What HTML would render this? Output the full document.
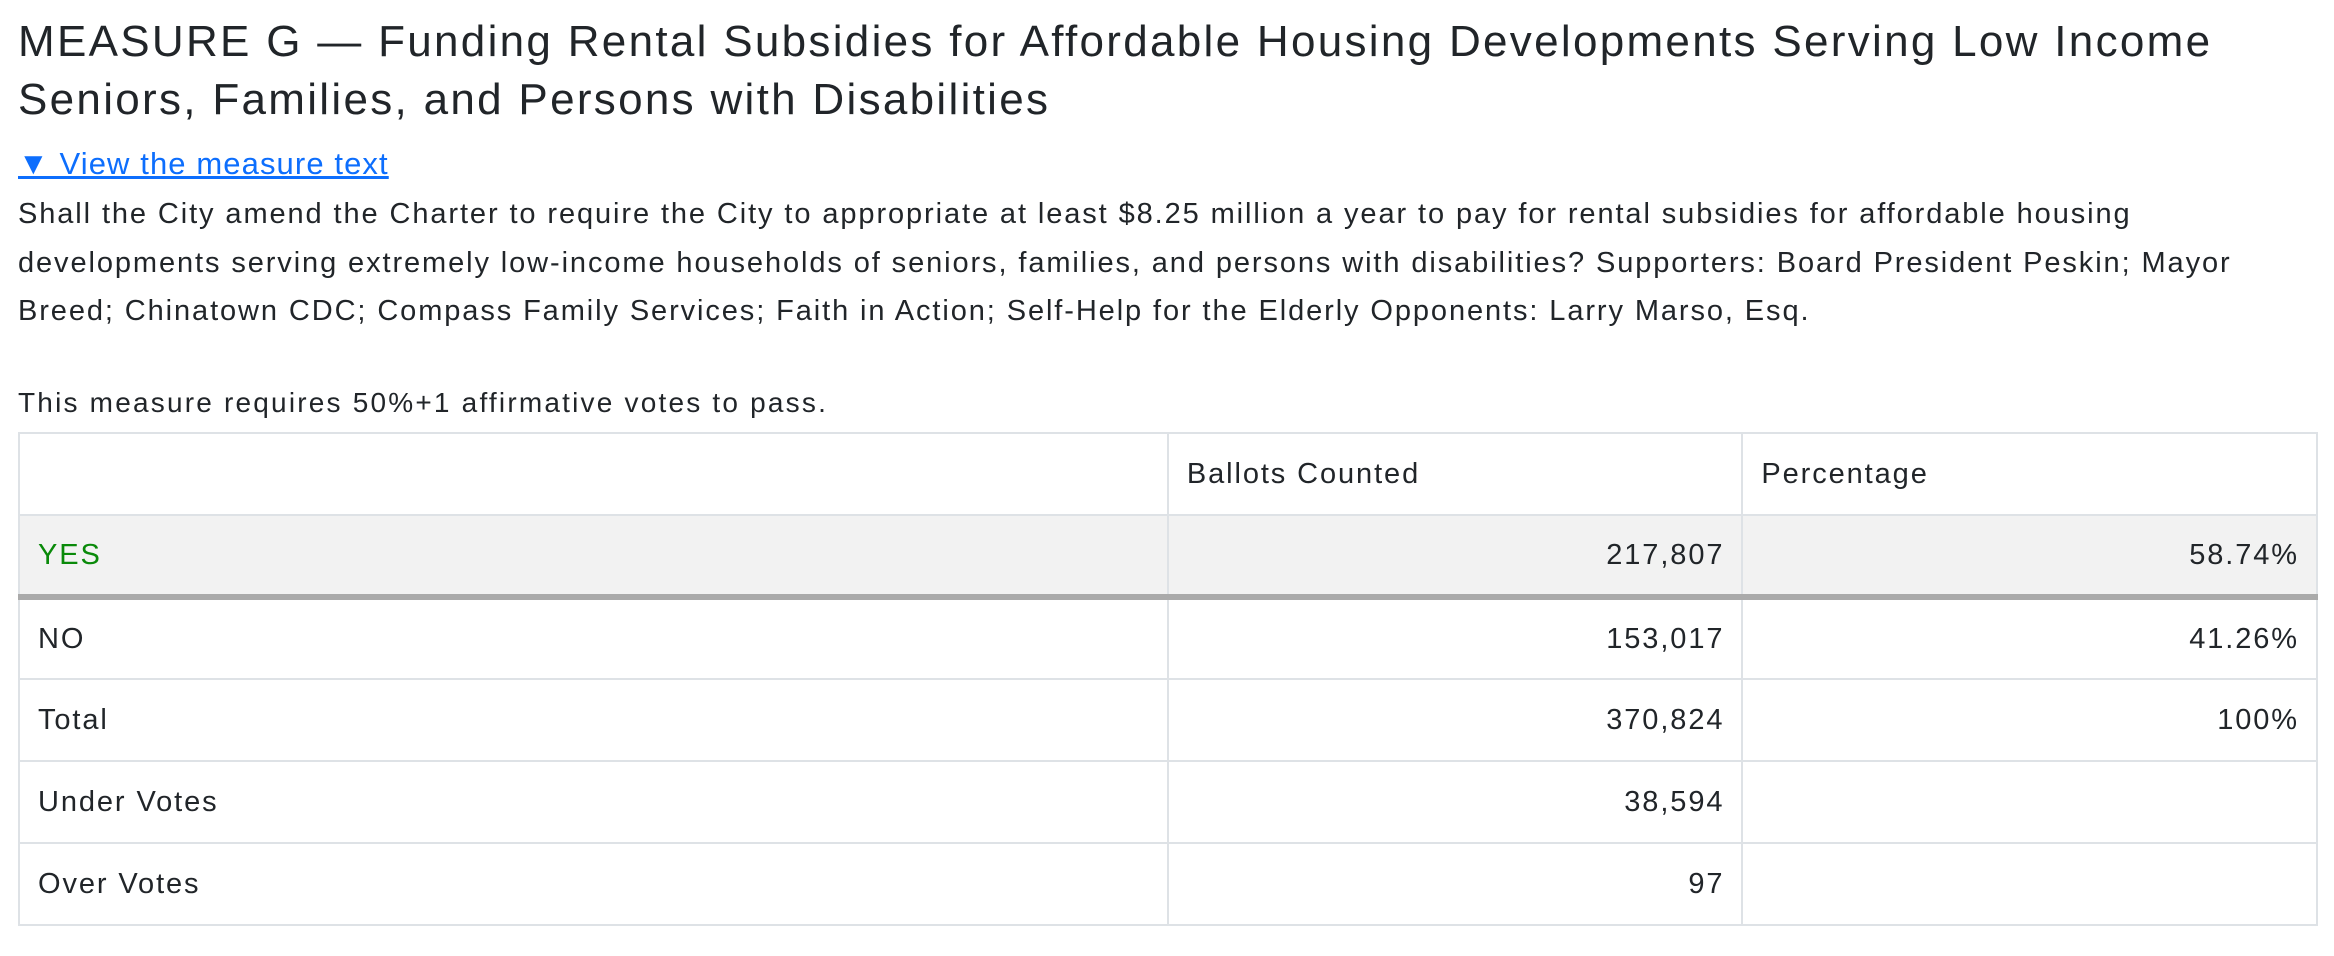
<!DOCTYPE html>
<html><head><meta charset="utf-8"><style>
*{box-sizing:border-box;margin:0;padding:0}
body{width:2334px;height:956px;background:#fff;font-family:"Liberation Sans",sans-serif;color:#212529;position:relative;overflow:hidden}
h1{position:absolute;left:18px;top:13px;width:2310px;font-size:44px;font-weight:400;line-height:58px;letter-spacing:2.3px;white-space:nowrap}
a{position:absolute;left:18px;top:146px;font-size:31px;color:#0d6efd;text-decoration:underline;letter-spacing:1.1px}
p.desc{position:absolute;left:18px;top:190px;width:2310px;font-size:29px;line-height:48.5px;letter-spacing:1.9px;white-space:nowrap}
p.req{position:absolute;left:18px;top:387px;font-size:28px;letter-spacing:2.2px}
table{position:absolute;left:18px;top:432px;width:2300px;border-collapse:collapse;font-size:29px;letter-spacing:1.9px}
td{border:2px solid #dee2e6;height:82px;padding:0 17px 0 18px;vertical-align:middle}
td.n{text-align:right}
tr.yes td{background:#f2f2f2;border-bottom:6px solid #aaa}
.green{color:#0a8a0a}
</style></head><body>
<h1>MEASURE G — Funding Rental Subsidies for Affordable Housing Developments Serving Low Income<br>Seniors, Families, and Persons with Disabilities</h1>
<a>▼ View the measure text</a>
<p class="desc">Shall the City amend the Charter to require the City to appropriate at least $8.25 million a year to pay for rental subsidies for affordable housing<br>developments serving extremely low-income households of seniors, families, and persons with disabilities? Supporters: Board President Peskin; Mayor<br>Breed; Chinatown CDC; Compass Family Services; Faith in Action; Self-Help for the Elderly Opponents: Larry Marso, Esq.</p>
<p class="req">This measure requires 50%+1 affirmative votes to pass.</p>
<table>
<colgroup><col style="width:1150px"><col style="width:575px"><col style="width:575px"></colgroup>
<tr><td></td><td>Ballots Counted</td><td>Percentage</td></tr>
<tr class="yes"><td class="green">YES</td><td class="n">217,807</td><td class="n">58.74%</td></tr>
<tr><td>NO</td><td class="n">153,017</td><td class="n">41.26%</td></tr>
<tr><td>Total</td><td class="n">370,824</td><td class="n">100%</td></tr>
<tr><td>Under Votes</td><td class="n">38,594</td><td></td></tr>
<tr><td>Over Votes</td><td class="n">97</td><td></td></tr>
</table>
</body></html>
